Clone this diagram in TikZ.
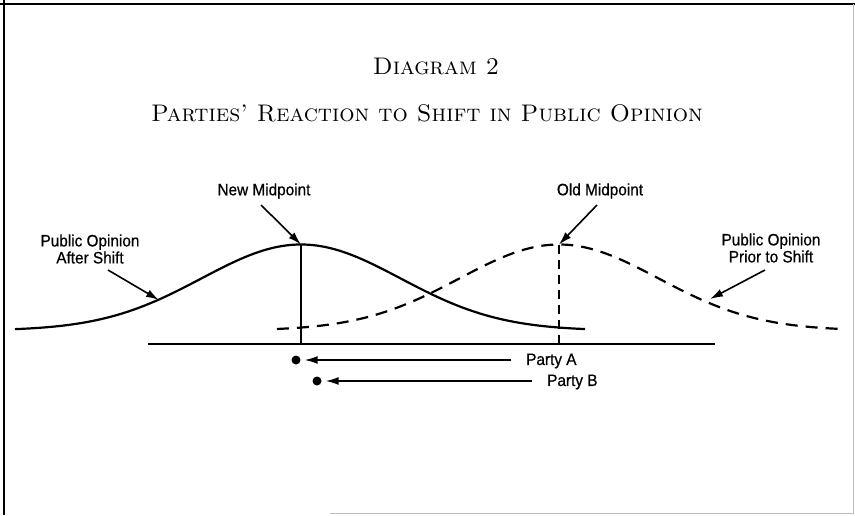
\documentclass[tikz,border=0pt]{standalone}
\usepackage{fontspec}
\newfontfamily\labelfont[FakeBold=0.6, FakeStretch=0.93]{Liberation Sans}
\usetikzlibrary{arrows.meta, positioning}

\tikzset{
  curveline/.style={line width=2.2pt},
  pointer/.style={line width=1.6pt, -{Latex[length=13pt, width=8pt]}},
  label/.style={font=\labelfont\fontsize{16.5}{17}\selectfont, align=center, inner sep=0pt},
  heading/.style={font=\fontsize{24}{28}\selectfont\scshape\addfontfeature{FakeBold=1.2}},
  dot/.style={circle, fill=black, inner sep=0pt, minimum size=9pt},
}

\begin{document}
\begin{tikzpicture}[x=1pt, y=-1pt]
\useasboundingbox (0,0) rectangle (855,515);
\draw [line width=2.2pt] (0,4) -- (855,4);
\draw [line width=2.2pt] (4,0) -- (4,515);
\draw [black!25, line width=0.8pt] (853,4) -- (853,513) -- (330,513);

\node [heading] (title) at (436,66) {Diagram 2};
\node [heading] (subtitle) at (427,113) {Parties' Reaction to Shift in Public Opinion};

\draw [curveline, smooth, samples=120, domain=15:585]
  plot (\x, {330.5-86*exp(-((\x-301)/99.4)^2/2)});
\draw [curveline, dash pattern=on 12pt off 8pt, smooth, samples=120, domain=277:838]
  plot (\x, {330.5-86*exp(-((\x-559)/99.4)^2/2)});

\coordinate (newtop) at (301,244.5);
\coordinate (oldtop) at (559,244.5);
\coordinate (newbase) at (301,344);
\coordinate (oldbase) at (559,344);
\draw [line width=2pt] (148,344) -- (715,344);
\draw [line width=1.7pt] (newtop) -- (newbase);
\draw [line width=1.7pt, dash pattern=on 9pt off 6pt] (oldtop) -- (oldbase);

\node [label] (newmid) at (264,191) {New Midpoint};
\node [label] (oldmid) at (600,191) {Old Midpoint};
\node [label] (after) at (90,249) {Public Opinion\\After Shift};
\node [label] (prior) at (771,248) {Public Opinion\\Prior to Shift};

\coordinate (aftertip) at (159,300);
\coordinate (priortip) at (710,299);
\draw [pointer] (261,205) -- (newtop);
\draw [pointer] (597,205) -- (oldtop);
\draw [pointer] (108,270) -- (aftertip);
\draw [pointer] (765,270) -- (priortip);

\node [dot] (dota) at (296,360) {};
\node [dot] (dotb) at (317,381) {};
\node [label, anchor=west] (partya) at (526,361) {Party A};
\node [label, anchor=west] (partyb) at (547,382) {Party B};
\draw [pointer] ([xshift=-15pt]partya.west |- dota) -- ([xshift=4pt]dota.east);
\draw [pointer] ([xshift=-15pt]partyb.west |- dotb) -- ([xshift=4pt]dotb.east);
\end{tikzpicture}
\end{document}
